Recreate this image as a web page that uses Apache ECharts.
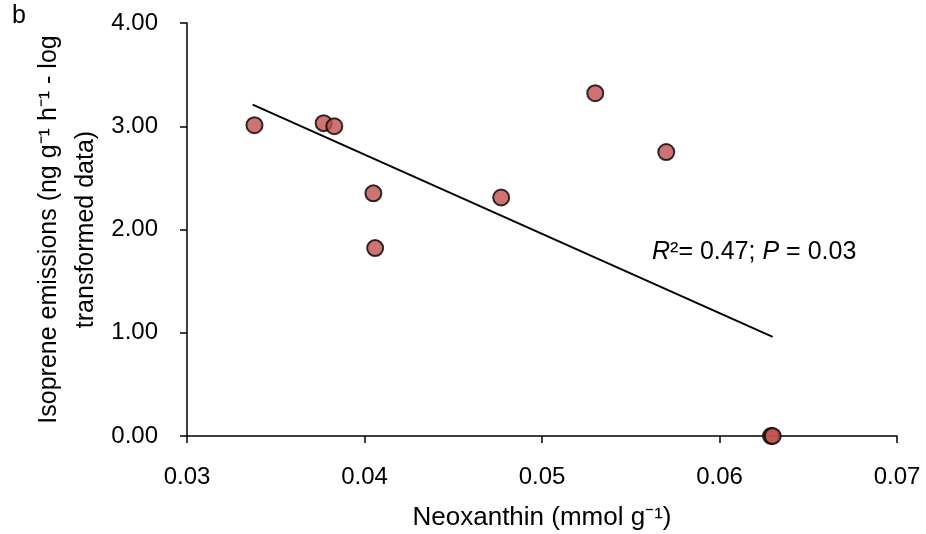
<!DOCTYPE html>
<html>
<head>
<meta charset="utf-8">
<script src="https://cdn.jsdelivr.net/npm/echarts@6/dist/echarts.min.js"></script>
<style>
  html, body { margin: 0; padding: 0; background: #fff; }
  #chart { width: 926px; height: 534px; }
</style>
</head>
<body>
<div id="chart"></div>
<script>
// neoxanthin (mmol g-1) vs log isoprene emissions
var neoxanthin = [0.0338, 0.0377, 0.0383, 0.0405, 0.0406, 0.0477, 0.0530, 0.0570, 0.0629, 0.0630];
var isoprene   = [3.01, 3.03, 3.00, 2.35, 1.82, 2.31, 3.32, 2.75, 0.00, 0.00];
// fitted line end points
var trendX = [0.0337, 0.0630];
var trendY = [3.21, 0.96];
var xTicks = [0.03, 0.04, 0.05, 0.06, 0.07];
var yTicks = [0, 1, 2, 3, 4];

var font = 'Liberation Sans';

var chart = echarts.init(document.getElementById('chart'));

var points = neoxanthin.map(function (x, i) { return [x, isoprene[i]]; });
var trend = trendX.map(function (x, i) { return [x, trendY[i]]; });

var option = {
    animation: false,
    backgroundColor: '#fff',
    textStyle: { fontFamily: font },
    // keep the plot box fixed, don't shrink it for the labels
    grid: { left: 187, right: 29, top: 23, bottom: 98, outerBoundsMode: 'none' },
    xAxis: {
        type: 'value',
        min: xTicks[0],
        max: xTicks[xTicks.length - 1],
        interval: 0.01,
        name: 'Neoxanthin (mmol g⁻¹)',
        nameLocation: 'middle',
        nameGap: 69,
        nameMoveOverlap: false,
        nameTextStyle: { fontSize: 26, color: '#000', fontFamily: font },
        axisLine: { onZero: false, lineStyle: { color: '#000', width: 1.5 } },
        axisTick: { show: true, inside: false, length: 7, lineStyle: { color: '#000', width: 1.5 } },
        axisLabel: {
            fontSize: 24, color: '#000', margin: 29,
            formatter: function (v) { return v.toFixed(2); }
        },
        splitLine: { show: false }
    },
    yAxis: {
        type: 'value',
        min: yTicks[0],
        max: yTicks[yTicks.length - 1],
        interval: 1,
        name: 'Isoprene emissions (ng g⁻¹ h⁻¹ - log\ntransformed data)',
        nameLocation: 'middle',
        nameGap: 82,
        nameMoveOverlap: false,
        nameTextStyle: { fontSize: 25, color: '#000', fontFamily: font, lineHeight: 37 },
        axisLine: { show: true, lineStyle: { color: '#000', width: 1.5 } },
        axisTick: { show: true, inside: false, length: 7, lineStyle: { color: '#000', width: 1.5 } },
        axisLabel: {
            fontSize: 24, color: '#000', margin: 29,
            formatter: function (v) { return v.toFixed(2); }
        },
        splitLine: { show: false }
    },
    series: [
        {
            type: 'line',
            data: trend,
            symbol: 'none',
            lineStyle: { color: '#000', width: 2 },
            z: 1
        },
        {
            type: 'scatter',
            data: points,
            symbol: 'circle',
            symbolSize: 16,
            itemStyle: { color: '#C0504D', borderColor: '#000', borderWidth: 2 },
            z: 3
        }
    ],
    graphic: [
        {
            type: 'text', left: 12, top: 4,
            style: { text: 'b', font: '25px "' + font + '"', fill: '#000' }
        },
        {
            type: 'text', left: 652, top: 240,
            style: {
                text: '{i|R}{n|²= 0.47; }{i|P}{n| = 0.03}',
                fill: '#000',
                rich: {
                    i: { fontStyle: 'italic', fontSize: 25, fontFamily: font, fill: '#000' },
                    n: { fontSize: 25, fontFamily: font, fill: '#000' }
                }
            }
        }
    ]
};

chart.setOption(option);
</script>
</body>
</html>
